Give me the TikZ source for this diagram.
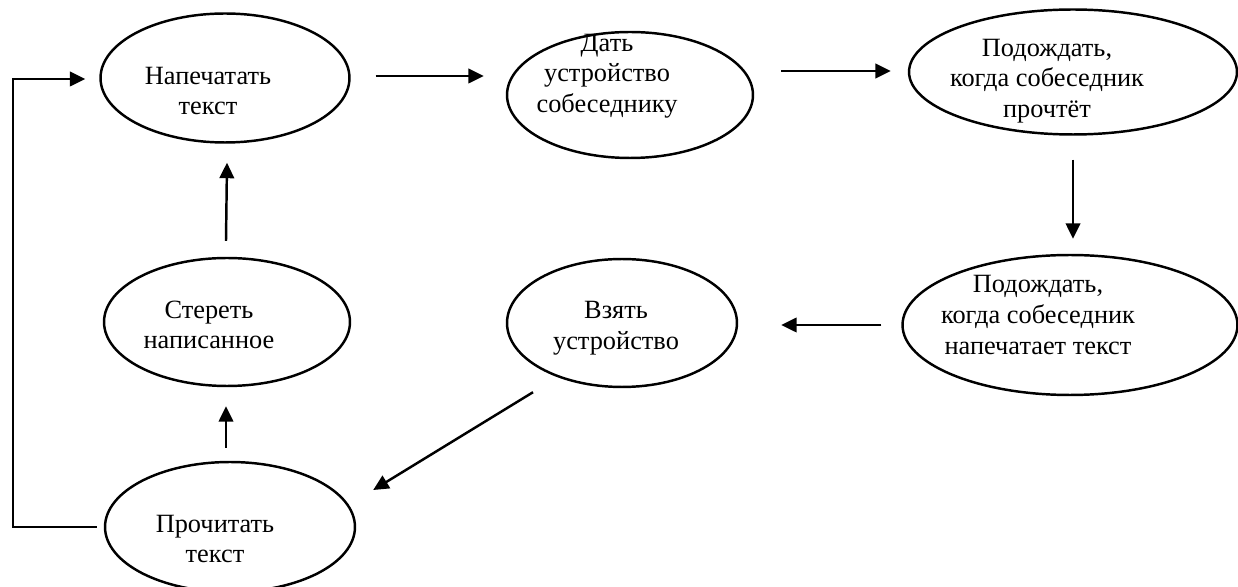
\documentclass[tikz,border=0pt]{standalone}
\usepackage{fontspec}
\setmainfont{Liberation Serif}
\usetikzlibrary{shapes.geometric,arrows.meta,calc}

\tikzset{
  oval/.style={draw, ellipse, line width=1.4pt, inner sep=0pt},
  lbl/.style={align=center, font=\fontsize{15}{17.5}\selectfont},
  arr/.style={line width=1.4pt, -{Triangle[length=0.31cm,width=0.29cm]}},
}

\begin{document}
\begin{tikzpicture}[x=0.02cm, y=-0.02cm]
\useasboundingbox (0,0) rectangle (1238,587);
% top row
\node[oval, minimum width=4.98cm, minimum height=2.58cm] (print) at (225,78) {};
\node[lbl] (printtxt) at ($(print)+(-17,13)$) {Напечатать\\текст};
\node[oval, minimum width=4.92cm, minimum height=2.52cm] (give) at (630,95) {};
\node[lbl] (givetxt) at ($(give)+(-23,-19)$) {Дать\\устройство\\собеседнику};
\node[oval, minimum width=6.56cm, minimum height=2.5cm] (waitread) at (1073,72) {};
\node[lbl] (waitreadtxt) at ($(waitread)+(-26,9)$) {Подождать,\\когда собеседник\\прочтёт};
% middle row
\node[oval, minimum width=6.7cm, minimum height=2.8cm] (waittype) at (1070,325) {};
\node[lbl] (waittypetxt) at ($(waittype)+(-32,-10)$) {Подождать,\\когда собеседник\\напечатает текст};
\node[oval, minimum width=4.6cm, minimum height=2.56cm] (take) at (622,323) {};
\node[lbl] (taketxt) at ($(take)+(-6,5)$) {Взять\\устройство};
\node[oval, minimum width=4.92cm, minimum height=2.56cm] (erase) at (227,322) {};
\node[lbl] (erasetxt) at ($(erase)+(-18,3)$) {Стереть\\написанное};
% bottom
\node[oval, minimum width=5cm, minimum height=2.6cm] (read) at (230,527) {};
\node[lbl] (readtxt) at ($(read)+(-15,12)$) {Прочитать\\текст};

% arrows
\draw[arr] ($(print.east)+(25,-2)$) -- ($(give.west)+(-22,-19)$);
\draw[arr] ($(give.east)+(27,-24)$) -- ($(waitread.west)+(-17,-1)$);
\draw[arr] ($(waitread.south)+(0,24)$) -- ($(waittype.north)+(3,-15)$);
\draw[arr] ($(waittype.west)+(-20,0)$) -- ($(take.east)+(43,2)$);
\draw[arr] ($(take.south)+(-89,4)$) -- ($(read.east)+(17,-37)$);
\draw[arr] ($(read.north)+(-4,-13)$) -- ($(erase.south)+(-1,19)$);
\draw[arr] ($(erase.north)+(-1,-16)$) -- ($(print.south)+(2,19)$);
\draw[arr] ($(read.west)+(-7,0)$) -- ++(-84,0) |- ($(print.west)+(-14,1)$);
\end{tikzpicture}
\end{document}
